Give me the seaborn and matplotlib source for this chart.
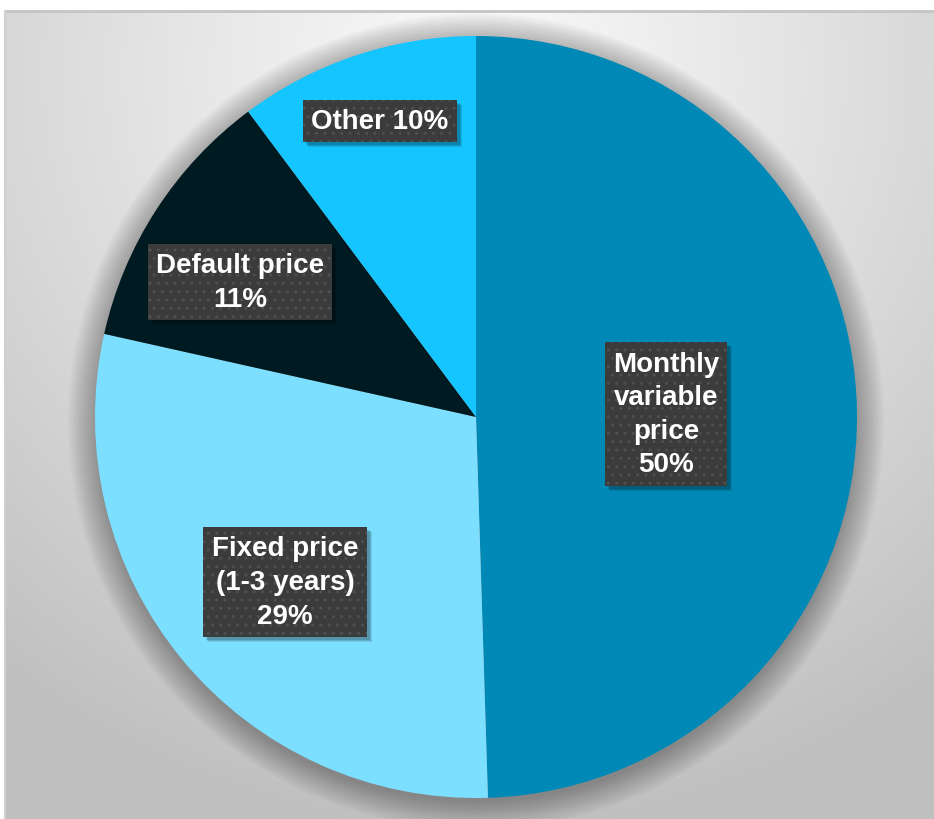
import numpy as np
import matplotlib
matplotlib.use("Agg")
import matplotlib.pyplot as plt
from matplotlib.patches import Rectangle
import seaborn as sns

categories = ["Monthly variable price", "Fixed price (1-3 years)", "Default price", "Other"]
values = [49.5, 29.0, 11.3, 10.2]
label_texts = ["Monthly\nvariable\nprice\n50%", "Fixed price\n(1-3 years)\n29%", "Default price\n11%", "Other 10%"]
colors = ["#0089B7", "#7CDFFF", "#001A21", "#14C5FF"]

sns.set_theme(style="white")
plt.rcParams['font.family'] = ['Liberation Sans', 'DejaVu Sans']
plt.rcParams['hatch.color'] = '#555555'
plt.rcParams['hatch.linewidth'] = 1.0

W, H = 934, 820
fig = plt.figure(figsize=(W / 100, H / 100), dpi=100)
fig.patch.set_facecolor("white")

# background gradient panel
bx0, by0 = 5, 12
bg_ax = fig.add_axes([bx0 / W, 0, (W - bx0) / W, (H - by0) / H])
bg_ax.set_axis_off()
yy, xx = np.mgrid[0:H - by0, 0:W - bx0]
d = np.hypot(xx - 470, (yy - 60) * 1.0)
val = 250 - 58 * np.clip(d / 760, 0, 1) ** 1.1
img = np.dstack([val, val, val]) / 255.0
bg_ax.imshow(img, aspect="auto", extent=[0, 1, 0, 1], origin="upper")
bg_ax.set_xlim(0, 1)
bg_ax.set_ylim(0, 1)
bg_ax.plot([0, 1], [1, 1], color="#c4c4c4", lw=2, transform=bg_ax.transAxes, clip_on=False)
bg_ax.plot([0, 0], [0, 1], color="#d0d0d0", lw=1.5, transform=bg_ax.transAxes, clip_on=False)

# pie axes
cx, cy, r = 476, 418, 381
ax = fig.add_axes([(cx - r) / W, (H - cy - r) / H, 2 * r / W, 2 * r / H])
ax.set_axis_off()
ax.set_xlim(-1, 1)
ax.set_ylim(-1, 1)
ax.set_aspect("equal")

# soft shadow
for rr in np.linspace(1.07, 1.0, 12):
    ax.add_patch(plt.Circle((0.0, -0.012), rr, color="black", alpha=0.028, lw=0, clip_on=False, zorder=0))

ax.pie(values, colors=colors, startangle=90, counterclock=False, radius=1.0,
       wedgeprops=dict(linewidth=0), frame=False)
ax.set_xlim(-1, 1)
ax.set_ylim(-1, 1)

# labels (pixel centers)
label_pos = [(666, 415), (285, 583), (240, 283), (380, 122)]
texts = []
for (px, py), txt in zip(label_pos, label_texts):
    fx, fy = px / W, 1 - py / H
    t = fig.text(fx, fy, txt, ha="center", va="center", fontsize=20,
                 fontweight="bold", color="white", linespacing=1.38, zorder=5,
                 bbox=dict(boxstyle="square,pad=0.3", fc="#3b3b3b", ec="#4f4f4f", lw=0, hatch=".."))
    texts.append(t)

fig.canvas.draw()
for t in texts:
    bb = t.get_bbox_patch().get_window_extent()
    for k, a in [(5, 0.10), (4, 0.12), (3, 0.14)]:
        fig.add_artist(Rectangle((bb.x0 + k, bb.y0 - k), bb.width, bb.height, transform=None,
                                 fc=(0, 0, 0, a), ec="none", zorder=4))

fig.savefig("out.png", dpi=100)
